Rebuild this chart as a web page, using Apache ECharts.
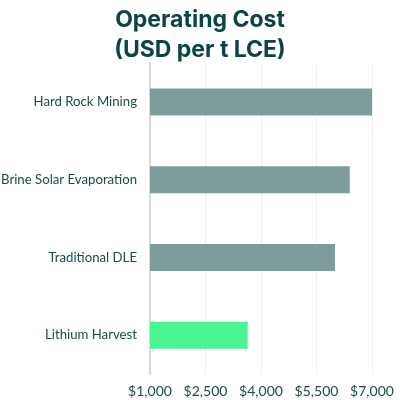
<!DOCTYPE html>
<html>
<head>
<meta charset="utf-8">
<script src="https://cdn.jsdelivr.net/npm/echarts@6/dist/echarts.min.js"></script>
<style>
  html, body { margin: 0; padding: 0; background: #fff; }
  #chart { width: 400px; height: 400px; }
</style>
</head>
<body>
<div id="chart"></div>
<script>
const categories = ['Hard Rock Mining', 'Brine Solar Evaporation', 'Traditional DLE', 'Lithium Harvest'];
const costs = [7000, 6400, 6000, 3640];
const highlight = 'Lithium Harvest';

const chart = echarts.init(document.getElementById('chart'));
chart.setOption({
  animation: false,
  title: {
    text: 'Operating Cost\n(USD per t LCE)',
    left: 'center',
    top: 0,
    textStyle: {
      color: '#0b4444',
      fontFamily: 'Inter',
      fontWeight: 'bold',
      fontSize: 23,
      lineHeight: 30
    }
  },
  grid: { left: 150, right: 28, top: 63, bottom: 26, outerBoundsMode: 'none' },
  xAxis: {
    type: 'value',
    min: 1000,
    max: 7000,
    interval: 1500,
    axisLine: { show: false },
    axisTick: { show: false },
    splitLine: { lineStyle: { color: '#efefef' } },
    axisLabel: {
      color: '#1c4a4a',
      fontFamily: 'Lato',
      fontSize: 14,
      margin: 10,
      formatter: v => '$' + v.toLocaleString('en-US')
    }
  },
  yAxis: {
    type: 'category',
    inverse: true,
    data: categories,
    axisLine: { lineStyle: { color: '#d9d9d9', width: 2 } },
    axisTick: { show: false },
    axisLabel: {
      color: '#1c4a4a',
      fontFamily: 'Lato',
      fontSize: 13.2,
      margin: 13
    }
  },
  series: [{
    type: 'bar',
    barWidth: 27,
    data: costs.map((v, i) => ({
      value: v,
      itemStyle: { color: categories[i] === highlight ? '#4cf594' : '#7f9c9c' }
    }))
  }]
});
</script>
</body>
</html>
